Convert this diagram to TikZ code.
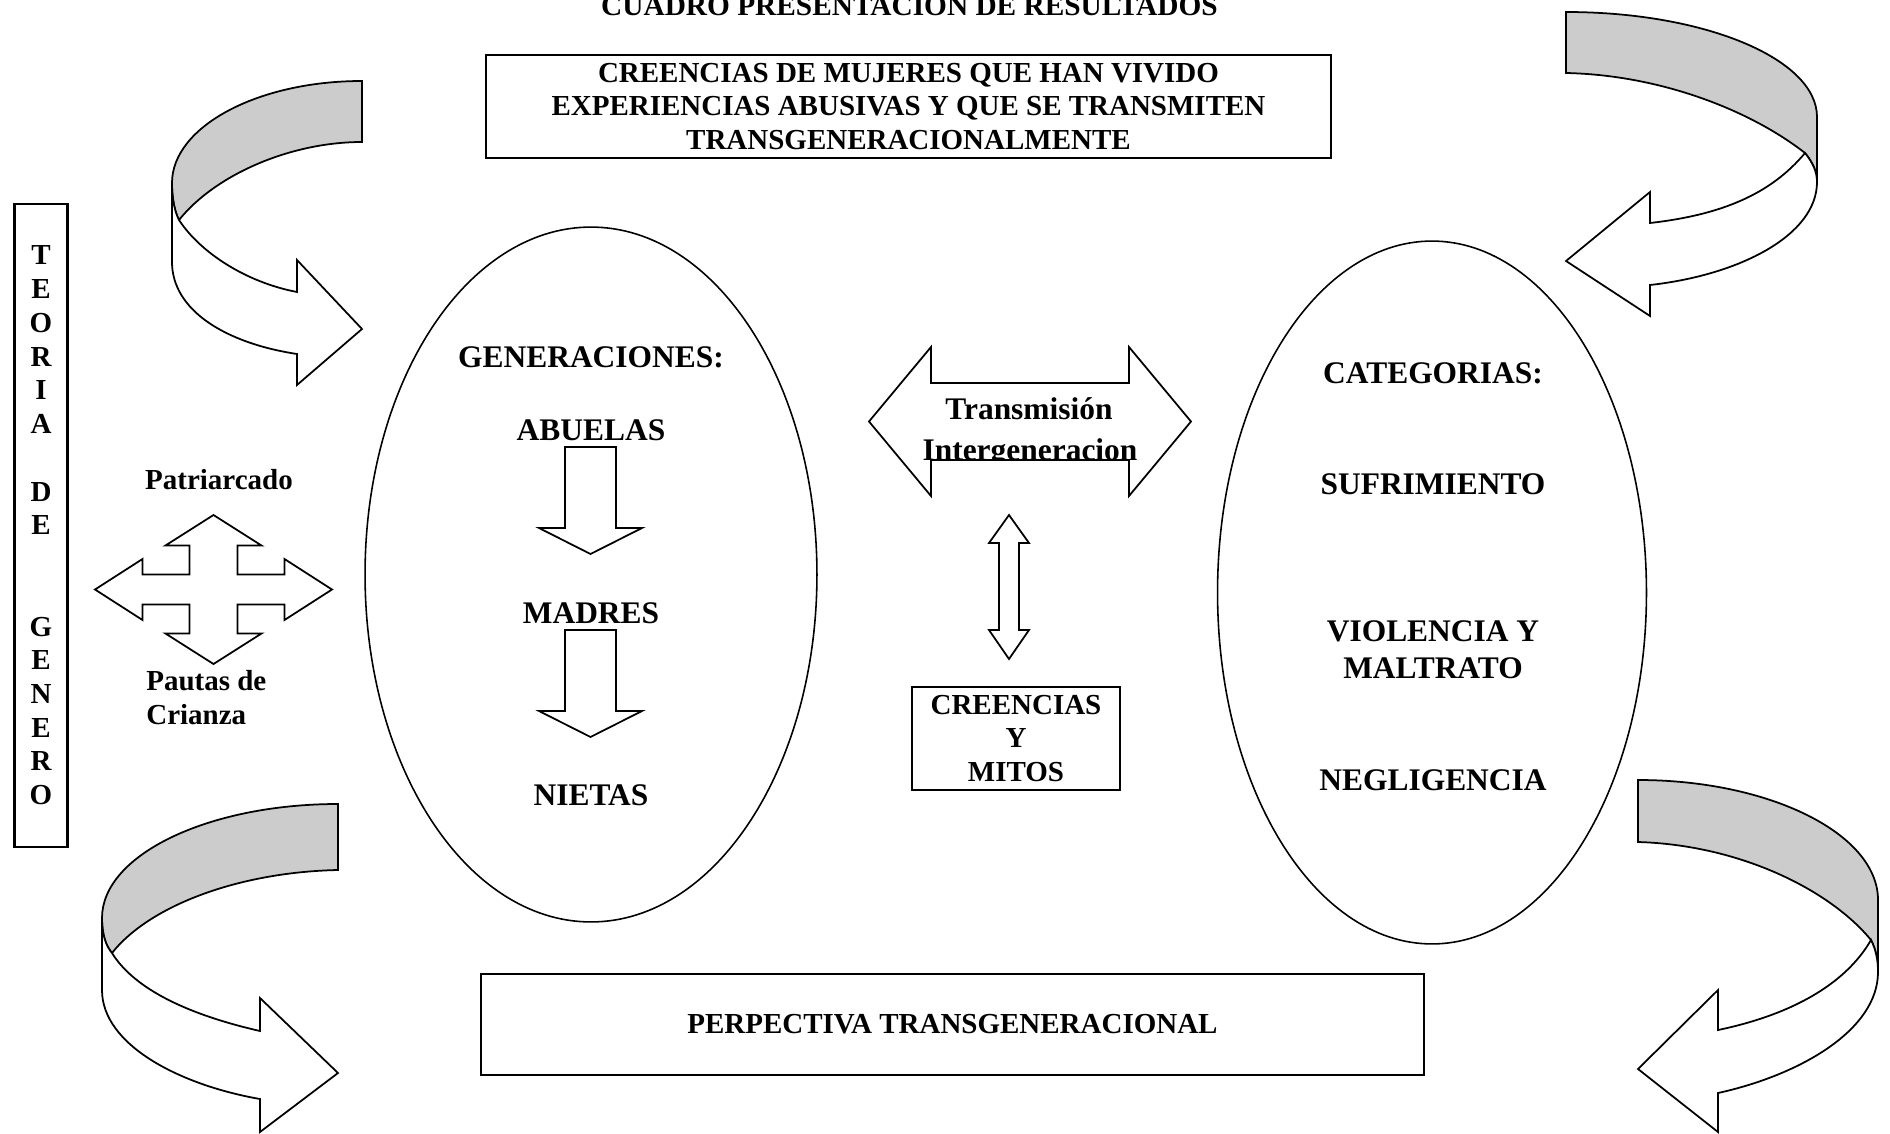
\documentclass[tikz,border=0pt]{standalone}
\usepackage{fontspec}
\setmainfont{Liberation Serif}
\usepackage{tikz}
\usetikzlibrary{shapes.geometric}
\tikzset{
    caja/.style={
        rectangle,
        draw=black,
        line width=1.4pt,
        inner sep=0pt,
        align=center,
        font=\fontsize{16.5}{19.2}\selectfont\bfseries
    },
    ovalo/.style={
        ellipse,
        draw=black,
        line width=0.9pt,
        inner sep=0pt
    },
    flecha/.style={
        draw=black,
        line width=1pt,
        line join=miter
    },
    cinta/.style={
        draw=black,
        line width=1pt,
        fill=black!20
    },
    frente/.style={
        draw=black,
        line width=1pt,
        fill=white
    },
    etiqueta/.style={
        inner sep=0pt,
        font=\fontsize{16.5}{19.2}\selectfont\bfseries
    },
    grande/.style={
        inner sep=0pt,
        font=\fontsize{17.9}{21.6}\selectfont\bfseries
    }
}

\begin{document}
\begin{tikzpicture}[x=0.02cm, y=-0.02cm]
\useasboundingbox (0,0) rectangle (1890,1133);

% Title, cut by the top edge
\node[etiqueta, anchor=base, font=\fontsize{16.7}{19.2}\selectfont\bfseries] (titulo) at (909.5,15.5) {CUADRO PRESENTACION DE RESULTADOS};

% Boxes
\node[caja, minimum width=16.9cm, minimum height=2.06cm] (tema) at (908.5,106.5)
    {CREENCIAS DE MUJERES QUE HAN VIVIDO\\EXPERIENCIAS ABUSIVAS Y QUE SE TRANSMITEN\\TRANSGENERACIONALMENTE};
\node[caja, minimum width=1.06cm, minimum height=12.86cm] (teoria) at (41,525.5)
    {T\\E\\O\\R\\I\\A\\~\\D\\E\\~\\~\\G\\E\\N\\E\\R\\O};
\node[caja, minimum width=4.16cm, minimum height=2.06cm] (mitos) at (1016,738.5) {CREENCIAS\\Y\\MITOS};
\node[caja, minimum width=18.86cm, minimum height=2.02cm] (perspectiva) at (952.5,1024.5) {PERPECTIVA TRANSGENERACIONAL};

% Generations
\node[ovalo, minimum width=9.04cm, minimum height=13.9cm] (gen) at (591,574.5) {};
\node[grande, anchor=base] (generaciones) at (591,367) {GENERACIONES:};
\node[grande, anchor=base] (abuelas) at (591,440) {ABUELAS};
\node[grande, anchor=base] (madres) at (591,623) {MADRES};
\node[grande, anchor=base] (nietas) at (591,805) {NIETAS};
\foreach \y in {447,630}
    \draw[flecha] (565,\y) -- (616,\y) -- (616,\y+81) -- (642,\y+81) -- (590.5,\y+107)
        -- (539,\y+81) -- (565,\y+81) -- cycle;

% Categories
\node[ovalo, minimum width=8.58cm, minimum height=14.06cm] (cat) at (1432,592.5) {};
\node[grande, anchor=base] (categorias) at (1433,383) {CATEGORIAS:};
\node[grande, anchor=base] (sufrimiento) at (1433,494) {SUFRIMIENTO};
\node[grande, anchor=base] (violencia) at (1433,641) {VIOLENCIA Y};
\node[grande, anchor=base] (maltrato) at (1433,678) {MALTRATO};
\node[grande, anchor=base] (negligencia) at (1433,790) {NEGLIGENCIA};

% Transmission arrow, text cut by the shaft
\draw[flecha] (869,421.5) -- (931,347) -- (931,383) -- (1129,383) -- (1129,347) -- (1191,421.5)
    -- (1129,496) -- (1129,460) -- (931,460) -- (931,496) -- cycle;
\begin{scope}
\clip (869,421.5) -- (931,347) -- (931,383) -- (1129,383) -- (1129,347) -- (1191,421.5)
    -- (1129,496) -- (1129,460) -- (931,460) -- (931,496) -- cycle;
\node[grande, anchor=base] (transmision) at (1029,419) {Transmisión};
\node[grande, anchor=base] (intergeneracion) at (1030,460) {Intergeneracion};
\end{scope}
\draw[flecha] (1009,515) -- (1029,543) -- (1019,543) -- (1019,630) -- (1029,630) -- (1009,659)
    -- (989,630) -- (999,630) -- (999,543) -- (989,543) -- cycle;

% Four-way arrow
\node[etiqueta, anchor=base] (patriarcado) at (219,489) {Patriarcado};
\node[etiqueta, anchor=north west, align=left] (pautas) at (146,670) {Pautas de\\Crianza};
\draw[flecha, shift={(213.5,589.5)}] (-118.5,0) -- (-71,-30.5) -- (-71,-15) -- (-24,-15) -- (-24,-44)
    -- (-48,-44) -- (0,-74.5) -- (48,-44) -- (24,-44) -- (24,-15) -- (71,-15) -- (71,-30.5)
    -- (118.5,0) -- (71,30.5) -- (71,15) -- (24,15) -- (24,44) -- (48,44) -- (0,74.5)
    -- (-48,44) -- (-24,44) -- (-24,15) -- (-71,15) -- (-71,30.5) -- cycle;

% Curved arrows: top left
\draw[cinta] (362,81) .. controls (257,81) and (172,127) .. (172,183)
    .. controls (172,200) and (175,212) .. (179,220)
    .. controls (215,175) and (290,142) .. (362,142) -- cycle;
\draw[frente] (172,183) -- (172,262) .. controls (172,310) and (225,343) .. (297,354)
    -- (297,385) -- (362,329) -- (297,260) -- (297,292)
    .. controls (245,282) and (200,252) .. (179,220)
    .. controls (175,212) and (172,200) .. (172,183) -- cycle;

% top right
\draw[cinta] (1566,12) .. controls (1705,12) and (1817,59) .. (1817,117) -- (1817,182)
    .. controls (1817,172) and (1813,163) .. (1805,153)
    .. controls (1750,110) and (1660,75) .. (1566,73) -- cycle;
\draw[frente] (1805,153) .. controls (1813,163) and (1817,172) .. (1817,182)
    .. controls (1817,235) and (1740,275) .. (1650,285)
    -- (1650,316) -- (1566,261) -- (1650,192) -- (1650,223)
    .. controls (1720,215) and (1770,195) .. (1805,153) -- cycle;

% bottom left
\draw[cinta] (338,804) .. controls (208,804) and (102,855) .. (102,918)
    .. controls (102,935) and (106,946) .. (112,953)
    .. controls (150,905) and (240,872) .. (338,870) -- cycle;
\draw[frente] (102,918) -- (102,990) .. controls (102,1045) and (180,1085) .. (260,1099)
    -- (260,1132) -- (338,1073) -- (260,998) -- (260,1031)
    .. controls (190,1015) and (135,990) .. (112,953)
    .. controls (106,946) and (102,935) .. (102,918) -- cycle;

% bottom right
\draw[cinta] (1638,780) .. controls (1770,780) and (1878,834) .. (1878,900) -- (1878,972)
    .. controls (1878,960) and (1876,950) .. (1871,940)
    .. controls (1830,890) and (1740,845) .. (1638,842) -- cycle;
\draw[frente] (1871,940) .. controls (1876,950) and (1878,960) .. (1878,972)
    .. controls (1878,1030) and (1800,1075) .. (1718,1093)
    -- (1718,1132) -- (1638,1069) -- (1718,990) -- (1718,1030)
    .. controls (1790,1015) and (1845,985) .. (1871,940) -- cycle;

\end{tikzpicture}
\end{document}
